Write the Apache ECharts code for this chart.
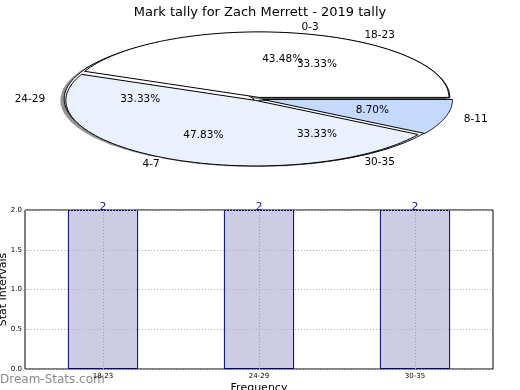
<!DOCTYPE html>
<html>
<head>
<meta charset="utf-8">
<script src="https://cdn.jsdelivr.net/npm/echarts@6/dist/echarts.min.js"></script>
<style>
html,body{margin:0;padding:0;background:#fff;}
#c{width:520px;height:390px;}
</style>
</head>
<body>
<div id="c"></div>
<script>
// ---- data ----
const titleText = 'Mark tally for Zach Merrett - 2019 tally';
const pieCatsA = ['0-3', '4-7', '8-11'];
const pieValsA = [10, 11, 2];
const pieCatsB = ['18-23', '24-29', '30-35'];
const pieValsB = [2, 2, 2];
const barCats = ['18-23', '24-29', '30-35'];
const barVals = [2, 2, 2];
const yTicks = [0, 0.5, 1.0, 1.5, 2.0];

// ---- styles ----
const FONT = 'DejaVu Sans';
const PIE = {cx: 258, cy: 99, rx: 190, ry: 65.5};
const colorsA = ['#ffffff', '#eaf1fd', '#c5d9fd'];
const colorsB = ['#ffffff', '#ffffff', '#ffffff'];

// build the combined pie dataset: [pieIndex, itemIndex, value]
const pieData = [];
pieValsB.forEach((v, i) => pieData.push([1, i, v]));
pieValsA.forEach((v, i) => pieData.push([0, i, v]));

const pies = [
  {vals: pieValsA, cats: pieCatsA, colors: colorsA, explode: 0.025, shadow: false, zBase: 2},
  {vals: pieValsB, cats: pieCatsB, colors: colorsB, explode: 0.02, shadow: true, zBase: 1}
];

function renderPie(params, api) {
  const p = pies[api.value(0)];
  const i = api.value(1);
  const v = api.value(2);
  const total = p.vals.reduce((a, b) => a + b, 0);
  let start = 0;
  for (let k = 0; k < i; k++) start += p.vals[k];
  const a0 = start / total * 2 * Math.PI;
  const a1 = (start + v) / total * 2 * Math.PI;
  const am = (a0 + a1) / 2;
  const ox = p.explode * PIE.rx * Math.cos(am);
  const oy = -p.explode * PIE.ry * Math.sin(am);
  const pts = [[0, 0]];
  const n = 80;
  for (let s = 0; s <= n; s++) {
    const a = a0 + (a1 - a0) * s / n;
    pts.push([PIE.rx * Math.cos(a), -PIE.ry * Math.sin(a)]);
  }
  const cx = PIE.cx + ox, cy = PIE.cy + oy;
  const children = [];
  if (p.shadow) {
    children.push({
      type: 'polygon', x: cx - 3.8, y: cy + 1.3, z2: 0,
      shape: {points: pts},
      style: {fill: 'rgba(60,60,60,0.55)', stroke: null}
    });
  }
  children.push({
    type: 'polygon', x: cx, y: cy, z2: p.zBase,
    shape: {points: pts},
    style: {fill: p.colors[i], stroke: '#000', lineWidth: 1}
  });
  const lx = cx + 1.1 * PIE.rx * Math.cos(am);
  const ly = cy - 1.1 * PIE.ry * Math.sin(am);
  children.push({
    type: 'text', x: lx, y: ly, z2: 10,
    style: {
      text: p.cats[i], fill: '#000', fontSize: 10.5, fontFamily: FONT,
      align: Math.cos(am) >= 0 ? 'left' : 'right', verticalAlign: 'middle'
    }
  });
  const px = cx + 0.6 * PIE.rx * Math.cos(am);
  const py = cy - 0.6 * PIE.ry * Math.sin(am);
  children.push({
    type: 'text', x: px, y: py, z2: 10,
    style: {
      text: (v / total * 100).toFixed(2) + '%', fill: '#000', fontSize: 10.5, fontFamily: FONT,
      align: 'center', verticalAlign: 'middle'
    }
  });
  return {type: 'group', children: children};
}

const chart = echarts.init(document.getElementById('c'), null, {renderer: 'canvas'});
chart.setOption({
  animation: false,
  backgroundColor: '#fff',
  title: {
    text: titleText, left: 'center', top: 1,
    textStyle: {fontFamily: FONT, fontSize: 13, fontWeight: 'normal', color: '#000'}
  },
  graphic: [{
    type: 'text', left: 0, top: 374,
    style: {text: 'Dream-Stats.com', fill: '#8a8a8a', fontSize: 12, fontFamily: FONT}
  }],
  grid: {
    left: 25, right: 27, top: 210, bottom: 21,
    outerBoundsMode: 'none', containLabel: false,
    show: true, borderColor: '#000', borderWidth: 1, backgroundColor: 'transparent'
  },
  xAxis: {
    type: 'category', data: barCats,
    name: 'Frequency', nameLocation: 'middle', nameGap: 14, nameMoveOverlap: false,
    nameTextStyle: {fontFamily: FONT, fontSize: 11, color: '#000'},
    axisLine: {show: false}, axisTick: {show: false},
    axisLabel: {fontFamily: FONT, fontSize: 7, color: '#000', margin: 4},
    splitLine: {show: false}
  },
  yAxis: {
    type: 'value', min: 0, max: 2, interval: 0.5, z: 5,
    name: 'Stat Intervals', nameLocation: 'middle', nameGap: 16, nameMoveOverlap: false,
    nameTextStyle: {fontFamily: FONT, fontSize: 11, color: '#000'},
    axisLine: {show: false},
    axisTick: {show: true, inside: true, length: 2, lineStyle: {color: '#999'}},
    axisLabel: {fontFamily: FONT, fontSize: 7, color: '#000', margin: 3,
      formatter: v => (yTicks.indexOf(v) >= 0 ? v.toFixed(1) : '')},
    splitLine: {show: true, lineStyle: {color: '#b0b0b0', type: [1, 2], width: 1}}
  },
  series: [
    {
      type: 'custom', coordinateSystem: 'none', z: 2,
      renderItem: renderPie, data: pieData, silent: true
    },
    {
      type: 'bar', data: barVals, barWidth: '45%', z: 2,
      itemStyle: {color: '#ccccE5', borderColor: '#000080', borderWidth: 1},
      label: {show: true, position: 'top', distance: -3, color: '#1a1a80', fontFamily: FONT, fontSize: 11},
      markLine: {
        silent: true, symbol: 'none', label: {show: false},
        lineStyle: {color: '#a0a0a0', type: [1, 2], width: 1},
        data: barCats.map(c => ({xAxis: c}))
      }
    }
  ]
});
</script>
</body>
</html>
